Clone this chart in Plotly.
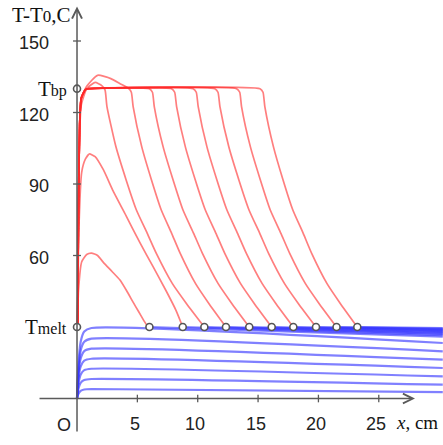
import plotly.graph_objects as go

# ---------------- data ----------------
T_MELT = 30
T_BP = 130

# red (liquid) temperature profiles
red_x = [
    [0.05, 0.12, 0.39, 0.8, 1.2, 1.7, 2.2, 2.9, 3.56, 4.1, 4.67, 5.1, 5.5, 5.77],
    [0.05, 0.15, 0.39, 0.7, 1.02, 1.5, 2.18, 3.0, 4.1, 5.2, 6.3, 7.4, 8.2, 8.76],
    [0.05, 0.12, 0.22, 0.35, 0.8, 1.5, 2.05, 2.32, 2.48, 3.22, 4.07, 4.92, 5.82, 6.57, 7.89, 9.06, 10.55],
    [0.05, 0.12, 0.22, 0.35, 0.8, 1.7, 2.8, 3.6, 4.25, 4.5, 4.65, 5.36, 6.17, 6.98, 7.84, 8.55, 9.81, 10.92, 12.34],
    [0.05, 0.12, 0.22, 0.35, 0.7, 1.0, 5.99, 6.25, 6.4, 7.13, 7.96, 8.78, 9.66, 10.39, 11.68, 12.82, 14.27],
    [0.05, 0.12, 0.22, 0.35, 0.7, 1.0, 7.83, 8.09, 8.25, 8.97, 9.8, 10.63, 11.51, 12.24, 13.54, 14.68, 16.13],
    [0.05, 0.12, 0.22, 0.35, 0.7, 1.0, 9.62, 9.88, 10.04, 10.76, 11.59, 12.42, 13.3, 14.03, 15.33, 16.47, 17.92],
    [0.05, 0.12, 0.22, 0.35, 0.7, 1.0, 11.42, 11.68, 11.84, 12.57, 13.41, 14.25, 15.14, 15.87, 17.18, 18.33, 19.8],
    [0.05, 0.12, 0.22, 0.35, 0.7, 1.0, 13.22, 13.48, 13.63, 14.36, 15.19, 16.01, 16.89, 17.62, 18.91, 20.05, 21.5],
    [0.05, 0.12, 0.22, 0.35, 0.7, 1.0, 15.16, 15.41, 15.56, 16.27, 17.07, 17.88, 18.74, 19.44, 20.7, 21.81, 23.22],
]
red_t = [
    [30, 45, 57.4, 60.4, 61, 60.0, 57.0, 53.3, 49.7, 45.3, 40.2, 36.5, 33.0, 30.8],
    [30, 70, 95, 100.5, 102.6, 101.5, 96, 87, 76.3, 65.5, 55.3, 45, 37, 30],
    [30, 80, 112, 123, 130, 132.6, 131.3, 129.5, 122.5, 105.7, 91.7, 79.1, 69.3, 60.9, 48.3, 39.9, 30],
    [30, 80, 115, 126, 131, 135.6, 134.2, 132, 130.2, 128.5, 122.5, 105.7, 91.7, 79.1, 69.3, 60.9, 48.3, 39.9, 30],
    [30, 80, 115, 126, 129.6, 130, 130, 128.5, 122.5, 105.7, 91.7, 79.1, 69.3, 60.9, 48.3, 39.9, 30],
    [30, 80, 115, 126, 129.6, 130, 130, 128.5, 122.5, 105.7, 91.7, 79.1, 69.3, 60.9, 48.3, 39.9, 30],
    [30, 80, 115, 126, 129.6, 130, 130, 128.5, 122.5, 105.7, 91.7, 79.1, 69.3, 60.9, 48.3, 39.9, 30],
    [30, 80, 115, 126, 129.6, 130, 130, 128.5, 122.5, 105.7, 91.7, 79.1, 69.3, 60.9, 48.3, 39.9, 30],
    [30, 80, 115, 126, 129.6, 130, 130, 128.5, 122.5, 105.7, 91.7, 79.1, 69.3, 60.9, 48.3, 39.9, 30],
    [30, 80, 115, 126, 129.6, 130, 130, 128.5, 122.5, 105.7, 91.7, 79.1, 69.3, 60.9, 48.3, 39.9, 30],
]

# blue (solid) profiles before melting
blue_pre_x = [0, 0.1, 0.3, 0.6, 1.2, 30.3]
blue_pre_t = [
    [0, 1.8, 3.2, 3.8, 4.0, 2.7],
    [0, 3.7, 6.6, 7.8, 8.2, 5.8],
    [0, 5.6, 10.0, 11.9, 12.5, 9.3],
    [0, 7.5, 13.4, 15.9, 16.7, 12.8],
    [0, 9.4, 16.7, 19.9, 20.9, 16.3],
    [0, 11.3, 20.1, 23.8, 25.1, 19.8],
    [0, 13.3, 23.7, 28.1, 29.6, 23.3],
]

# melt-front positions and the solid part beyond each front
front_x = [6.0, 8.76, 10.55, 12.34, 14.27, 16.13, 17.92, 19.8, 21.5, 23.22]
front_end_t = [26.0, 26.6, 27.1, 27.5, 27.9, 28.3, 28.6, 28.9, 29.2, 29.5]
x_right = 30.3
curve1_end = (5.77, 30.8)

# axis ticks
x_ticks = [5, 10, 15, 20, 25]
y_ticks = [60, 90, 120, 150]

# ---------------- figure ----------------
RED = "rgba(255,40,40,0.6)"
BLUE = "rgba(50,50,255,0.62)"
AX = "#5a5a5a"

fig = go.Figure()

for ts in blue_pre_t:
    fig.add_trace(go.Scatter(x=blue_pre_x, y=ts, mode="lines",
                             line=dict(color=BLUE, width=2.2, shape="spline", smoothing=0.6),
                             hoverinfo="skip"))
for xf, te in zip(front_x, front_end_t):
    fig.add_trace(go.Scatter(x=[xf, x_right], y=[T_MELT, te], mode="lines",
                             line=dict(color=BLUE, width=2.2), hoverinfo="skip"))
fig.add_trace(go.Scatter(x=[curve1_end[0], front_x[0]], y=[curve1_end[1], T_MELT], mode="lines",
                         line=dict(color=BLUE, width=2.0), hoverinfo="skip"))

for xs, ts in zip(red_x, red_t):
    fig.add_trace(go.Scatter(x=xs, y=ts, mode="lines",
                             line=dict(color=RED, width=1.7, shape="spline", smoothing=0.5),
                             hoverinfo="skip"))

mk_x = [0, 0] + front_x
mk_y = [T_MELT, T_BP] + [T_MELT] * len(front_x)
fig.add_trace(go.Scatter(x=mk_x, y=mk_y, mode="markers",
                         marker=dict(size=7, color="white", line=dict(color="#555555", width=1.6)),
                         hoverinfo="skip"))

shapes = []
for v in y_ticks:
    shapes.append(dict(type="line", xref="x", yref="y", x0=-0.33, x1=0.33, y0=v, y1=v,
                       line=dict(color=AX, width=1.3)))
for v in x_ticks:
    shapes.append(dict(type="line", xref="x", yref="y", x0=v, x1=v, y0=-1.6, y1=1.6,
                       line=dict(color=AX, width=1.3)))

ann = []
# axes with arrow heads
ann.append(dict(x=28.0, y=0, ax=-3.23, ay=0, xref="x", yref="y", axref="x", ayref="y",
                showarrow=True, arrowhead=5, arrowsize=1.3, arrowwidth=1.5, arrowcolor=AX,
                standoff=0, startstandoff=0, text=""))
ann.append(dict(x=0, y=164.5, ax=0, ay=-14.5, xref="x", yref="y", axref="x", ayref="y",
                showarrow=True, arrowhead=5, arrowsize=1.3, arrowwidth=1.5, arrowcolor=AX,
                standoff=0, startstandoff=0, text=""))

SANS = "Liberation Sans, Arial, sans-serif"
SERIF = "Liberation Serif, Times New Roman, serif"
for v in y_ticks:
    ann.append(dict(x=-2.15, y=v - 1.0, xref="x", yref="y", text=str(v), showarrow=False,
                    xanchor="right", yanchor="middle", font=dict(family=SANS, size=18, color="#222")))
for v in x_ticks:
    ann.append(dict(x=v - 0.2, y=-10.6, xref="x", yref="y", text=str(v), showarrow=False,
                    xanchor="center", yanchor="middle", font=dict(family=SANS, size=18, color="#222")))
ann.append(dict(x=-1.1, y=-11.2, xref="x", yref="y", text="O", showarrow=False,
                xanchor="center", yanchor="middle", font=dict(family=SANS, size=18, color="#222")))
ann.append(dict(x=26.3, y=-10.2, xref="x", yref="y",
                text="<i>x</i>, cm", showarrow=False,
                xanchor="left", yanchor="middle", font=dict(family=SERIF, size=19, color="#111")))
ann.append(dict(x=-0.65, y=T_BP, xref="x", yref="y",
                text="T<span style='font-size:16px'>bp</span>", showarrow=False,
                xanchor="right", yanchor="middle", font=dict(family=SERIF, size=21, color="#111")))
ann.append(dict(x=-0.65, y=T_MELT, xref="x", yref="y",
                text="T<span style='font-size:16px'>melt</span>", showarrow=False,
                xanchor="right", yanchor="middle", font=dict(family=SERIF, size=21, color="#111")))
ann.append(dict(x=-0.35, y=161.0, xref="x", yref="y",
                text="T-T<span style='font-size:17px'>0</span>,C", showarrow=False,
                xanchor="right", yanchor="middle", font=dict(family=SERIF, size=21, color="#111")))

fig.update_layout(
    width=443, height=445,
    margin=dict(l=0, r=0, t=0, b=0),
    paper_bgcolor="white", plot_bgcolor="white",
    showlegend=False,
    xaxis=dict(range=[-6.38, 30.32], visible=False, fixedrange=True),
    yaxis=dict(range=[-19.5, 167.2], visible=False, fixedrange=True),
    shapes=shapes, annotations=ann,
)

fig.write_html("out.html", config={"displayModeBar": False},
               post_script="document.body.style.margin='0px';document.body.style.overflow='hidden';")
